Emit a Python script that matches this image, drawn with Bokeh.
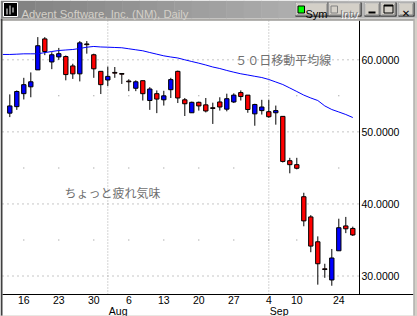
from bokeh.plotting import figure
from bokeh.models import (ColumnDataSource, FixedTicker, LinearAxis, Range1d,
                          Label, BoxAnnotation, PrintfTickFormatter)
from bokeh.embed import file_html
from bokeh.resources import INLINE

# ---------------- data ----------------
dates = ["2001-07-11",
         "2001-07-12", "2001-07-13", "2001-07-16", "2001-07-17", "2001-07-18",
         "2001-07-19", "2001-07-20", "2001-07-23", "2001-07-24", "2001-07-25",
         "2001-07-26", "2001-07-27", "2001-07-30", "2001-07-31", "2001-08-01",
         "2001-08-02", "2001-08-03", "2001-08-06", "2001-08-07", "2001-08-08",
         "2001-08-09", "2001-08-10", "2001-08-13", "2001-08-14", "2001-08-15",
         "2001-08-16", "2001-08-17", "2001-08-20", "2001-08-21", "2001-08-22",
         "2001-08-23", "2001-08-24", "2001-08-27", "2001-08-28", "2001-08-29",
         "2001-08-30", "2001-08-31", "2001-09-04", "2001-09-05", "2001-09-06",
         "2001-09-07", "2001-09-10", "2001-09-17", "2001-09-18", "2001-09-19",
         "2001-09-20", "2001-09-21", "2001-09-24", "2001-09-25", "2001-09-26"]

# OHLC for dates[1:]
open_ = [52.6, 53.5, 55.3, 56.25, 58.6, 62.9, 59.7, 60.4, 60.45, 59.15,
         58.05, 62.2, 60.7, 58.4, 57.2, 58.25, 58.1, 57.05, 56.05, 57.1,
         54.35, 55.3, 54.45, 55.85, 58.4, 54.45, 52.65, 54.1, 53.75, 53.35,
         54.15, 53.15, 54.15, 55.45, 55.1, 52.5, 52.95, 52.8, 52.65, 52.15,
         46.0, 45.45, 41.0, 38.2, 34.75, 31.0, 29.45, 33.5, 36.95, 36.6]
high = [55.2, 55.75, 57.5, 58.25, 63.15, 63.15, 61.05, 61.65, 60.6, 59.45,
        62.6, 62.6, 60.85, 58.4, 59.05, 59.0, 58.1, 57.3, 57.15, 57.1,
        56.2, 55.75, 55.7, 57.5, 58.5, 54.7, 54.2, 54.2, 54.7, 54.05,
        54.8, 55.3, 55.35, 55.75, 55.1, 53.9, 54.45, 54.45, 53.65, 52.15,
        46.4, 46.4, 41.55, 38.45, 35.5, 31.7, 33.75, 37.95, 38.2, 36.85]
low = [52.05, 53.05, 54.5, 54.8, 58.6, 60.65, 58.7, 60.0, 57.15, 57.35,
       57.0, 60.85, 57.5, 55.25, 56.35, 57.5, 56.65, 55.65, 55.65, 54.35,
       53.05, 52.6, 53.65, 54.7, 54.0, 52.2, 52.65, 52.95, 52.7, 51.1,
       52.95, 52.85, 54.0, 54.35, 52.65, 50.85, 52.4, 51.95, 51.0, 45.75,
       44.25, 44.8, 36.9, 33.3, 28.8, 29.75, 28.65, 33.5, 35.95, 35.55]
close = [53.6, 55.6, 56.55, 56.95, 61.95, 61.15, 60.7, 60.85, 57.95, 58.05,
         62.35, 62.1, 58.75, 56.55, 57.7, 58.15, 58.0, 56.95, 56.95, 55.3,
         55.95, 54.55, 55.0, 57.25, 54.7, 53.9, 54.1, 53.6, 52.9, 53.25,
         53.45, 54.6, 55.1, 54.9, 53.1, 53.8, 53.45, 52.1, 52.95, 45.9,
         45.45, 44.95, 37.65, 34.15, 31.7, 30.9, 32.5, 36.7, 36.55, 35.7]

# 50-day moving average for all dates
ma50 = [60.74, 60.74, 60.78, 60.83, 60.83, 60.83, 61.0, 61.15, 61.29, 61.36,
        61.43, 61.57, 61.75, 61.85, 61.78, 61.75, 61.71, 61.67, 61.53, 61.39,
        61.25, 61.01, 60.78, 60.55, 60.39, 60.25, 60.0, 59.76, 59.53, 59.28,
        59.0, 58.79, 58.52, 58.28, 58.06, 57.89, 57.71, 57.54, 57.27, 56.92,
        56.57, 56.09, 55.6, 55.1, 54.7, 54.35, 53.6, 53.1, 52.76, 52.41, 51.99]

tick_dates = ["2001-07-16", "2001-07-23", "2001-07-30", "2001-08-06",
              "2001-08-13", "2001-08-20", "2001-08-27", "2001-09-04",
              "2001-09-10", "2001-09-24"]
month_names = {"08": "Aug", "09": "Sep"}
y_ticks = [30, 40, 50, 60]
y_minor = [35, 45, 55]

title_text = "Advent Software, Inc. (NM), Daily"
ma_note = "５０日移動平均線"
comment = "ちょっと疲れ気味"

# ---------------- derived ----------------
xs = list(range(1, len(dates)))
top = [max(o, c) for o, c in zip(open_, close)]
bottom = [min(o, c) for o, c in zip(open_, close)]
colors = ["#0000ff" if c > o else "#ff0000" for o, c in zip(open_, close)]
src = ColumnDataSource(dict(x=xs, high=high, low=low, top=top, bottom=bottom, color=colors))

tick_idx = [dates.index(d) for d in tick_dates]
month_idx = []
month_lbl = []
for i in range(1, len(dates)):
    if dates[i][5:7] != dates[i - 1][5:7]:
        month_idx.append(i)
        month_lbl.append(month_names[dates[i][5:7]])

# ---------------- geometry (frame = whole canvas) ----------------
W, H = 417, 316
PX = 7.0        # px per trading day
PY = 7.207      # px per dollar
x0 = 1 - 9.3 / PX
x1 = x0 + W / PX
y1 = 60 + 59.3 / PY
y0 = y1 - H / PY


def dx(px):
    return x0 + px / PX


def dy(py):
    return y1 - py / PY


CH_L, CH_R, CH_T, CH_B = 2, 413, 20, 294      # chart box in canvas px
AX_X = 359                                    # right axis position (px)

p = figure(width=W, height=H, output_backend="svg", toolbar_location=None,
           x_range=Range1d(x0, x1), y_range=Range1d(y0, y1),
           min_border=0, min_border_left=0, min_border_right=0,
           min_border_top=0, min_border_bottom=0,
           x_axis_location=None, y_axis_location=None,
           background_fill_color="white", border_fill_color="white")
p.outline_line_color = None
for g in p.grid:
    g.visible = False

# grid: dotted horizontals at labelled prices, dotted verticals at month starts
p.segment(x0=[dx(CH_L)] * len(y_ticks), x1=[dx(AX_X)] * len(y_ticks), y0=y_ticks, y1=y_ticks,
          line_color="#8c8c8c", line_dash="1 4", line_width=1)
p.segment(x0=month_idx, x1=month_idx, y0=[dy(CH_B)] * len(month_idx),
          y1=[dy(CH_T)] * len(month_idx),
          line_color="#a8a8a8", line_dash="1 2", line_width=1)
mx = [t for t in tick_idx for _ in y_minor]
my = [v for _ in tick_idx for v in y_minor]
p.rect(x=mx, y=my, width=1, height=1, width_units="screen", height_units="screen",
       fill_color="#8c8c8c", line_color=None)

# x axis (fixed at chart bottom)
xa = LinearAxis(fixed_location=dy(CH_B), ticker=FixedTicker(ticks=tick_idx),
                bounds=(dx(CH_L), dx(CH_R)))
xa.major_label_overrides = {i: str(int(d[-2:])) for i, d in zip(tick_idx, tick_dates)}
xa.major_tick_out = 0
xa.major_tick_in = 0
xa.minor_tick_out = 0
xa.minor_tick_in = 0
xa.axis_line_color = "black"
xa.major_label_text_font = "Liberation Sans"
xa.major_label_text_font_size = "10.5px"
xa.major_label_text_color = "black"
xa.major_label_standoff = 1
p.add_layout(xa, "below")

# y axis (fixed at right edge of chart area)
ya = LinearAxis(fixed_location=dx(AX_X), ticker=FixedTicker(ticks=y_ticks),
                formatter=PrintfTickFormatter(format="%.4f"),
                bounds=(dy(CH_B), dy(CH_T)))
ya.major_tick_out = 0
ya.major_tick_in = 0
ya.minor_tick_out = 0
ya.minor_tick_in = 0
ya.axis_line_color = "black"
ya.major_label_text_font = "Liberation Sans"
ya.major_label_text_font_size = "10.5px"
ya.major_label_text_color = "black"
ya.major_label_standoff = 2
p.add_layout(ya, "right")

# candles
p.segment(x0="x", y0="low", x1="x", y1="high", source=src, line_color="black", line_width=1)
p.vbar(x="x", width=0.62, top="top", bottom="bottom", fill_color="color",
       line_color="black", line_width=1, source=src)

# moving average
p.line(x=list(range(len(dates))), y=ma50, line_color="#0000ff", line_width=1)

# notes
p.add_layout(Label(x=33.2, y=60, text=ma_note, text_font="Noto Sans CJK JP",
                   text_font_size="12px", text_color="#707070", text_baseline="middle"))
p.add_layout(Label(x=8.8, y=41.6, text=comment, text_font="Noto Sans CJK JP",
                   text_font_size="12px", text_color="#707070", text_baseline="middle"))


# ---------------- window chrome (screen units, frame == canvas) ----------------
def sx(px):
    return px


def sy(py):
    return H - py


def box(l, t, r, b, fill, line=None):
    p.add_layout(BoxAnnotation(left=sx(l), right=sx(r), top=sy(t), bottom=sy(b),
                               left_units="screen", right_units="screen",
                               top_units="screen", bottom_units="screen",
                               fill_color=fill, fill_alpha=1.0 if fill else 0.0,
                               line_color=line, line_alpha=1.0 if line else 0.0,
                               level="overlay"))


def label(x, y, text, size, color, font="Liberation Sans", align="left", weight="normal"):
    p.add_layout(Label(x=sx(x), y=sy(y), x_units="screen", y_units="screen", text=text,
                       text_font=font, text_font_size=size, text_color=color,
                       text_align=align, text_baseline="alphabetic", text_font_style=weight,
                       level="overlay"))


def button(l, t, r, b):
    box(l, t, r, b, "#000000")
    box(l, t, r - 1, b - 1, "#ffffff")
    box(l + 1, t + 1, r - 1, b - 1, "#808080")
    box(l + 1, t + 1, r - 2, b - 2, "#d4d0c8")


# borders
box(0, 18, 417, 20, "#d4d0c8")
box(0, 19, 417, 20, "#808080")
box(0, 18, 2, 316, "#404040")
box(413, 18, 417, 316, "#d4d0c8")
box(413, 18, 414, 316, "#a0a0a0")
box(0, 315, 417, 316, "#d4d0c8")

# month labels under the day labels
for i, m in zip(month_idx, month_lbl):
    p.add_layout(Label(x=i, y=sy(304), y_units="screen", x_offset=1, text=m,
                       text_font="Liberation Sans", text_font_size="10.5px",
                       text_color="black", text_align="left", text_baseline="top",
                       level="overlay"))

# title bar gradient
N = 24
for i in range(N):
    t = i / (N - 1)
    v = int(round(128 + 64 * t))
    box(417 * i / N, 0, 417 * (i + 1) / N + 0.5, 18, "#%02x%02x%02x" % (v, v, v))

# icon
box(3, 2, 17, 16, "#000000", "#ffffff")
box(6, 8, 7, 14, "#ffffff")
box(9, 5, 10, 14, "#ffffff")
box(12, 7, 13, 12, "#ffffff")

label(21, 13.5, title_text, "11.3px", "#d4d0c8")

# buttons
for l, r in [(295, 328), (328, 361), (364, 380), (380, 396), (398, 414)]:
    button(l, 2, r, 16)
box(297.5, 5.5, 304, 12.5, "#00ff00", "#000000")
label(305, 13.5, "Sym", "11px", "#000000")
box(330.5, 5.5, 337, 12.5, "#d4d0c8", "#808080")
label(340.5, 14.5, "Intv", "11px", "#ffffff")
label(339.5, 13.5, "Intv", "11px", "#808080")
box(368, 11, 375, 13, "#000000")
box(383.5, 4.5, 392.5, 12.5, None, "#000000")
box(383.5, 4.5, 392.5, 6, "#000000")
label(405.5, 13, "✕", "10px", "#000000", font="DejaVu Sans", align="center", weight="bold")

open("out.html", "w").write(file_html(p, INLINE))
